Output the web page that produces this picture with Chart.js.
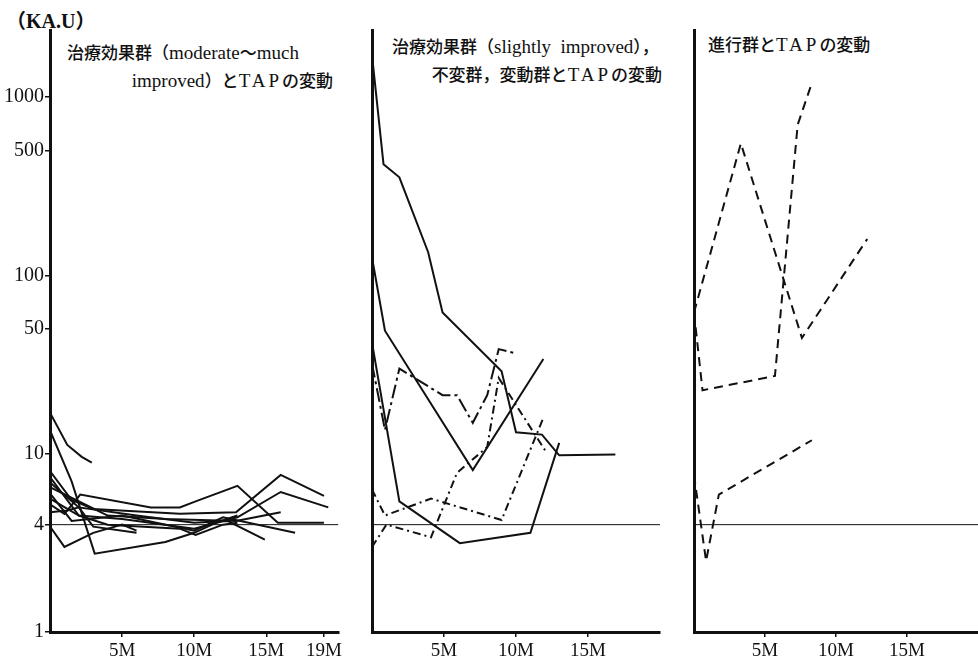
<!DOCTYPE html>
<html>
<head>
<meta charset="utf-8">
<script src="https://cdn.jsdelivr.net/npm/chart.js@4.4.1/dist/chart.umd.min.js"></script>
<style>
  body { margin:0; background:#fff; width:978px; height:662px; position:relative; overflow:hidden;
         font-family:"Liberation Serif","Noto Sans CJK JP",serif; color:#111; }
  canvas { position:absolute; top:0; }
  .t { position:absolute; white-space:nowrap; font-size:17px; line-height:20px; font-weight:500; }
  .l { font-size:19px; font-weight:normal; }
  .sp { letter-spacing:3px; }
</style>
</head>
<body>
<div class="t" style="left:6px;top:9px;font-size:20px;font-weight:bold;line-height:24px">（KA.U）</div>
<div class="t" style="left:67px;top:43px">治療効果群（<span class="l">moderate</span>～<span class="l">much</span></div>
<div class="t" style="right:645px;top:71px"><span class="l">improved</span>）と<span class="l sp">TAP</span>の変動</div>
<div class="t" style="left:392px;top:37px">治療効果群（<span class="l">slightly&nbsp; improved</span>），</div>
<div class="t" style="right:316px;top:65px">不変群，変動群と<span class="l sp">TAP</span>の変動</div>
<div class="t" style="left:708px;top:35px">進行群と<span class="l sp">TAP</span>の変動</div>

<canvas id="c1" width="345" height="662" style="left:0"></canvas>
<canvas id="c2" width="305" height="662" style="left:360px"></canvas>
<canvas id="c3" width="298" height="662" style="left:680px"></canvas>

<script>
// tick labels
const yTicks = [1, 4, 10, 50, 100, 500, 1000];
const xTicks1 = [5, 10, 15, 19];
const xTicks = [5, 10, 15];
const refLine = [[0, 4], [20, 4]];

// panel 1: moderate~much improved   [month, KA.U]
const p1a = [[0,17],[1.2,11.2],[2.2,9.6],[2.9,8.9]];
const p1b = [[0,13.5],[1.5,7],[3.1,2.75],[8,3.2],[10,3.6],[11.5,4.1],[13,4.5]];
const p1c = [[0,3.9],[1,3.0],[3,3.6],[5,4.0],[6,3.7]];
const p1d = [[0,5.2],[1,4.6],[2.1,5.9],[7,5.0],[9,5.0],[10.1,5.4],[13,6.6],[15.8,4.1],[19,4.1]];
const p1e = [[0,8],[1.5,5.5],[3,4.9],[9,4.6],[12.9,4.7],[16,7.6],[19,5.8]];
const p1f = [[0,7.4],[2,4.5],[5,4.3],[10,3.8],[13,4.4],[16,6.1],[19.3,5.0]];
const p1g = [[0,6.9],[2,5],[6,4.5],[10,4.1],[12.3,4.2],[14.9,3.3]];
const p1h = [[0,6.0],[1.5,4.2],[5,4.5],[10,3.7],[12,4.4],[17,3.6]];
const p1i = [[0,6.5],[1.8,5.5],[4,4.5],[8,4.3],[12.9,4.2],[16,4.7]];
const p1j = [[0,4.7],[1.2,4.8],[2,5],[3,3.9],[6,3.6]];
const p1k = [[0,5.6],[2,4.5],[4,4.0],[9,3.8],[10.1,3.5],[12,4.0],[13,4.1]];

// panel 2: slightly improved / unchanged / fluctuating
const p2a = [[0,1720],[0.8,420],[1.9,355],[3.9,135],[4.9,62],[9,29],[10,13.2],[11.8,12.8],[13,9.8],[16.9,9.9]];
const p2b = [[0,126],[0.9,49],[7,8.1],[11.9,34]];
const p2c = [[0,42],[1.9,5.4],[6.1,3.15],[11,3.6],[13,11.5]];
const p2d = [[0,32],[0.9,13.6],[1.9,30],[4.9,21.3],[5.9,21.3],[7,14.9],[8,21.3],[8.8,38.6],[9.9,36.7]];
const p2e = [[0,3.0],[1,4.0],[4.1,3.4],[5.9,7.8],[8,10.9],[8.8,26.6],[12.1,10.2]];
const p2f = [[0,6.3],[0.9,4.5],[4.1,5.6],[9,4.25],[11.9,15.9]];

// panel 3: progressive
const p3a = [[0,62],[0.6,22.7],[5.7,27.3],[7.3,700],[8.3,1200]];
const p3b = [[0,62],[3.3,550],[7.6,44.6],[12.2,160]];
const p3c = [[0,7.6],[0.85,2.5],[1.75,5.9],[8.3,11.9]];

const ink = '#111';
const tickFont = { family: 'Liberation Serif', size: 19 };

function line(pts, dash, w) {
  return {
    data: pts.map(p => ({ x: p[0], y: p[1] })),
    borderColor: ink,
    borderWidth: w || 2,
    borderDash: dash || [],
    pointRadius: 0,
    tension: 0,
    fill: false
  };
}

function opts(xt, showY, yWidth, padRight) {
  return {
    responsive: false,
    animation: false,
    layout: { padding: { top: 30, right: padRight, left: 0, bottom: 0 } },
    plugins: { legend: { display: false }, tooltip: { enabled: false } },
    scales: {
      x: {
        type: 'linear', min: 0, max: 20, bounds: 'data',
        afterBuildTicks: s => { s.ticks = xt.map(v => ({ value: v })); },
        afterFit: s => { s.height = 30; },
        ticks: { callback: v => v + 'M', color: ink, font: tickFont, padding: 3, maxRotation: 0, autoSkip: false },
        grid: { drawOnChartArea: false, tickLength: 5, color: ink, lineWidth: 1.5 },
        border: { color: ink, width: 3 }
      },
      y: {
        type: 'logarithmic', min: 1, max: 2380, bounds: 'data',
        afterBuildTicks: s => { s.ticks = showY ? yTicks.map(v => ({ value: v })) : []; },
        afterFit: s => { s.width = yWidth; },
        ticks: { display: showY, callback: v => String(v), color: ink, font: { family: 'Liberation Serif', size: 20 }, padding: 1 },
        grid: { drawOnChartArea: false, tickLength: 5, color: ink, lineWidth: 1.5 },
        border: { color: ink, width: 3 }
      }
    }
  };
}

new Chart(document.getElementById('c1'), {
  type: 'line',
  data: { datasets: [
    line(refLine, [], 1),
    line(p1a), line(p1b), line(p1c), line(p1d), line(p1e), line(p1f),
    line(p1g), line(p1h), line(p1i), line(p1j), line(p1k)
  ] },
  options: opts(xTicks1, true, 50, 2)
});

new Chart(document.getElementById('c2'), {
  type: 'line',
  data: { datasets: [
    line(refLine, [], 1),
    line(p2a), line(p2b), line(p2c),
    line(p2d, [14, 4, 3, 4]),
    line(p2e, [8, 4, 2, 4]),
    line(p2f, [8, 4, 2, 4])
  ] },
  options: opts(xTicks, false, 12, 5)
});

new Chart(document.getElementById('c3'), {
  type: 'line',
  data: { datasets: [
    line(refLine, [], 1),
    line(p3a, [9, 6]), line(p3b, [9, 6]), line(p3c, [9, 6])
  ] },
  options: opts(xTicks, false, 14, 0)
});
</script>
</body>
</html>
